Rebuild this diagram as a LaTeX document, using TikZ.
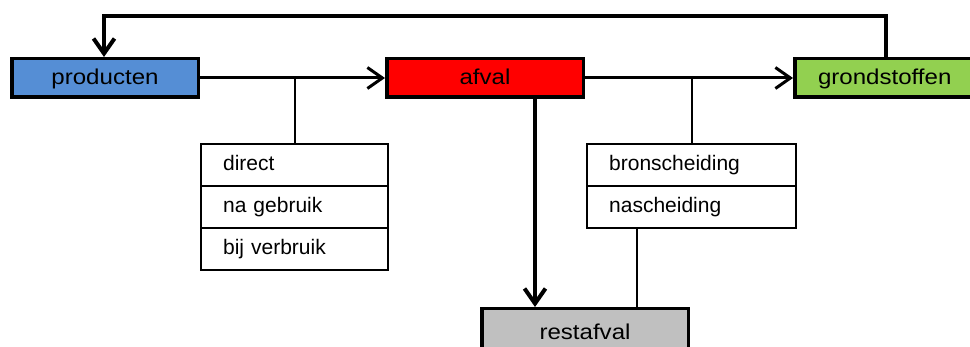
\documentclass[tikz,border=0pt]{standalone}
\usepackage{fontspec}
\setmainfont{Liberation Sans}
\newfontfamily\widefont[FakeStretch=1.12]{Liberation Sans}
\usetikzlibrary{arrows.meta}
\definecolor{cblue}{RGB}{85,142,213}
\definecolor{cred}{RGB}{255,0,0}
\definecolor{cgreen}{RGB}{146,208,80}
\definecolor{cgray}{RGB}{192,192,192}
\begin{document}
\begin{tikzpicture}[x=1pt,y=-1pt,
  txt/.style={font=\fontsize{21}{25}\selectfont},
  bigtxt/.style={font=\widefont\fontsize{21.5}{25}\selectfont},
  mainbox/.style={bigtxt, draw, line width=3.5pt, minimum height=38.5pt, inner sep=0pt, text height=15pt, text depth=1pt},
  openbox/.style={bigtxt, line width=3.5pt, inner sep=0pt, outer sep=0pt, text height=15pt, text depth=1pt},
  listrow/.style={txt, draw, line width=2.3pt, inner xsep=22pt, inner ysep=0pt, minimum height=42pt, text height=15pt, text depth=4pt, align=left, anchor=north west},
  arr/.style={-{Straight Barb[length=15pt,width=21pt]}},
  thick line/.style={line width=4pt},
  mid line/.style={line width=3pt},
  thin line/.style={line width=2.3pt},
]
\useasboundingbox (0,0) rectangle (970,347);
\clip (0,0) rectangle (970,347);
\fill[white] (0,0) rectangle (970,347);

% main boxes
\node[mainbox, fill=cblue, minimum width=186.5pt] (prod) at (105,78) {producten};
\node[mainbox, fill=cred, minimum width=196.5pt] (afval) at (485,78) {afval};
\node[openbox, fill=cgreen, minimum width=180pt, minimum height=38.5pt] (gr) at (884.75,78) {grondstoffen};
\draw[line width=3.5pt] (gr.north east) -- (gr.north west) -- (gr.south west) -- (gr.south east);
\node[openbox, fill=cgray, minimum width=206.5pt, minimum height=48.5pt] (rest) at (585,333) {restafval};
\draw[line width=3.5pt] (rest.south west) -- (rest.north west) -- (rest.north east) -- (rest.south east);

% list boxes
\node[listrow, text width=143pt] (l1) at (200,143) {direct};
\node[listrow, text width=143pt] (l2) at (200,185) {na gebruik};
\node[listrow, text width=143pt] (l3) at (200,227) {bij verbruik};
\node[listrow, text width=165pt] (r1) at (586,143) {bronscheiding};
\node[listrow, text width=165pt] (r2) at (586,185) {nascheiding};

% helper coordinates
\coordinate (fbr) at (886,16);
\coordinate (fbl) at (104,16);
\coordinate (dx) at (535,0);
\coordinate (rx) at (637,0);

% connectors
\draw[arr, mid line] (prod.east) -- (afval.west);
\draw[arr, mid line, shorten >=1.75pt] (afval.east) -- (gr.west);
\draw[arr, thick line] (gr.north -| fbr) -- (fbr) -- (fbl) -- (prod.north -| fbl);
\draw[arr, thick line, shorten >=1.75pt] (afval.south -| dx) -- (rest.north -| dx);
\draw[thin line] (l1.north) -- (l1.north |- prod.east);
\draw[thin line] (r1.north) -- (r1.north |- afval.east);
\draw[thin line] (r2.south -| rx) -- (rest.north -| rx);
\end{tikzpicture}
\end{document}
